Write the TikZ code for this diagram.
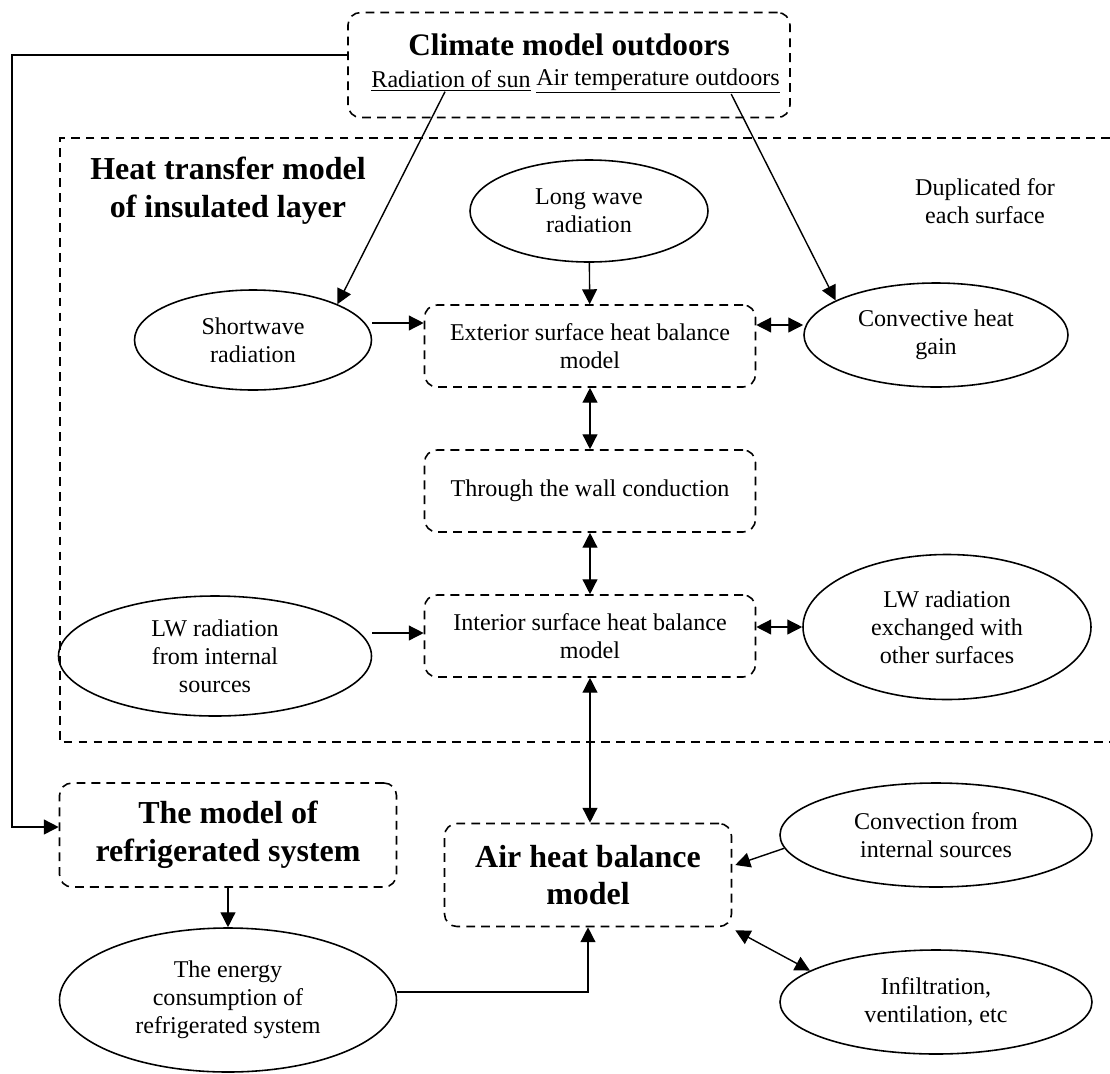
\documentclass[tikz,border=0pt]{standalone}
\usepackage{fontspec}
\setmainfont{Liberation Serif}
\usetikzlibrary{shapes.geometric, arrows.meta, calc, positioning}
\newlength\px
\setlength\px{0.02cm}

\begin{document}
\begin{tikzpicture}[x=0.02cm, y=-0.02cm,
	dbox/.style={draw, dashed, dash pattern=on 5pt off 3.5pt, line width=0.9pt,
		rounded corners=0.25cm, align=center},
	oval/.style={draw, ellipse, line width=0.9pt, align=center, inner sep=0pt},
	body/.style={font=\fontsize{13.7}{16}\selectfont},
	head/.style={font=\fontsize{18.2}{21.5}\selectfont\bfseries, align=center},
	arr/.style={line width=0.8pt, -{Triangle[length=8.5pt,width=8.5pt]}},
	darr/.style={line width=0.8pt, {Triangle[length=8.5pt,width=8.5pt]}-{Triangle[length=8.5pt,width=8.5pt]}}]
	\useasboundingbox (0,0) rectangle (1110,1073);
	% climate model
	\node[dbox, minimum width=442\px, minimum height=105\px] (climate) at (569,65) {};
	\node[head, font=\fontsize{17.8}{21}\selectfont\bfseries] (ctitle) at (569,45) {Climate model outdoors};
	\node[body, inner sep=0pt] (sun) at (451,81) {\underline{Radiation of sun}};
	\node[body, inner sep=0pt] (airT) at (658,81) {\underline{Air temperature outdoors}};
	% heat transfer model (open at the right)
	\draw[dashed, dash pattern=on 5pt off 3.5pt, line width=0.9pt] (1110,138) -- (60,138) -- (60,742) -- (1110,742);
	\node[head] (htitle) at (228,191) {Heat transfer model\\of insulated layer};
	\node[body, align=center] (dup) at (985,201) {Duplicated for\\each surface};
	\node[oval, body, minimum width=238\px, minimum height=102\px] (lwave) at (589,211) {Long wave\\radiation};
	\node[oval, body, minimum width=237\px, minimum height=100\px] (swave) at (253,340) {Shortwave\\radiation};
	\node[dbox, body, minimum width=331\px, minimum height=82\px] (ext) at (590,346) {Exterior surface heat balance\\model};
	\node[oval, body, minimum width=264\px, minimum height=104\px] (conv) at (936,335) {Convective heat\\gain};
	\node[dbox, body, minimum width=331\px, minimum height=82\px] (wall) at (590,491) {Through the wall conduction};
	\node[oval, body, minimum width=313\px, minimum height=120\px] (lwint) at (215,656) {LW radiation\\from internal\\sources};
	\node[dbox, body, minimum width=331\px, minimum height=82\px] (int) at (590,636) {Interior surface heat balance\\model};
	\node[oval, body, minimum width=288\px, minimum height=145\px] (lwexc) at (947,627) {LW radiation\\exchanged with\\other surfaces};
	% lower part
	\node[dbox, head, minimum width=337\px, minimum height=104\px] (refr) at (228,835) {The model of\\refrigerated system};
	\node[dbox, head, minimum width=287\px, minimum height=103\px] (air) at (588,875) {Air heat balance\\model};
	\node[oval, body, minimum width=337\px, minimum height=144\px] (energy) at (228,1000) {The energy\\consumption of\\refrigerated system};
	\node[oval, body, minimum width=312\px, minimum height=104\px] (convin) at (936,835) {Convection from\\internal sources};
	\node[oval, body, minimum width=312\px, minimum height=104\px] (infil) at (936,1002) {Infiltration,\\ventilation, etc};

	\draw[arr] ($(sun.south)+(-6,0)$) -- (swave.23);
	\draw[arr] ($(airT.south)!0.6!(airT.south east)$) -- (conv.161);
	\draw[arr] (lwave) -- (ext);
	\draw[arr] (swave.east |- 0,323) -- (ext.west |- 0,323);
	\draw[darr] (ext.east |- 0,325) -- (conv.west |- 0,325);
	\draw[darr] (ext) -- (wall);
	\draw[darr] (wall) -- (int);
	\draw[arr] (lwint.east |- 0,633) -- (int.west |- 0,633);
	\draw[darr] (int.east |- 0,627) -- (lwexc.west |- 0,627);
	\draw[darr] (int.south) -- (int.south |- air.north);
	\draw[arr, line width=0.9pt] (climate.west |- 0,55) -| (12,827) -- (refr.west |- 0,827);
	\draw[arr] (refr) -- (energy);
	\draw[arr] (energy.east |- 0,992) -| (air.south);
	\draw[arr] (convin.185) -- ($(air.east)+(3,-10)$);
	\draw[darr] ($(air.south east)+(3,3)$) -- (infil.166);
\end{tikzpicture}
\end{document}
